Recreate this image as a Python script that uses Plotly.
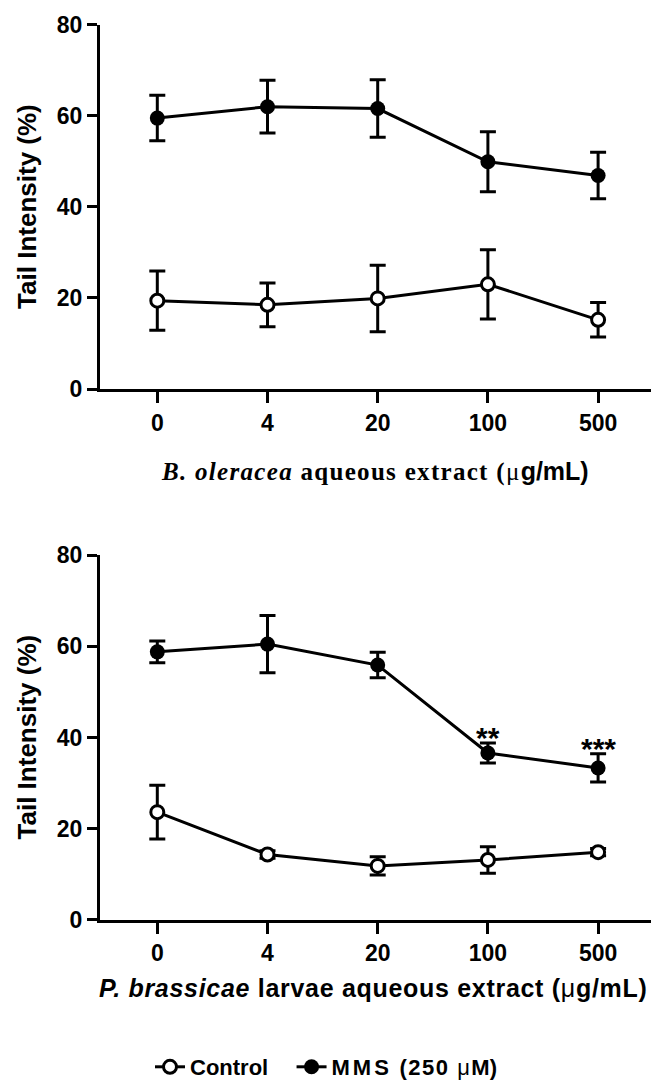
import plotly.graph_objects as go

# ---------------- data ----------------
doses = ["0", "4", "20", "100", "500"]

# Panel A: B. oleracea aqueous extract
ctrl_a_mean = [19.4, 18.5, 19.9, 23.0, 15.2]
ctrl_a_sd = [6.5, 4.8, 7.3, 7.6, 3.8]
mms_a_mean = [59.5, 62.0, 61.6, 49.9, 46.9]
mms_a_sd = [5.0, 5.8, 6.3, 6.6, 5.1]

# Panel B: P. brassicae larvae aqueous extract
ctrl_b_mean = [23.6, 14.3, 11.8, 13.1, 14.8]
ctrl_b_sd = [5.9, 0.8, 2.0, 2.9, 0.8]
mms_b_mean = [58.8, 60.5, 55.9, 36.6, 33.3]
mms_b_sd = [2.4, 6.3, 2.8, 2.2, 3.1]
sig_b = ["", "", "", "**", "***"]

y_ticks = [0, 20, 40, 60, 80]

# ---------------- figure ----------------
W, H = 651, 1088
SANS = "Liberation Sans, Arial, sans-serif"

fig = go.Figure()


def add_pair(ctrl_m, ctrl_s, mms_m, mms_s, xa, ya, show):
    fig.add_trace(go.Scatter(
        x=doses, y=ctrl_m, xaxis=xa, yaxis=ya, mode="lines+markers",
        name="<b>Control</b>&nbsp;&nbsp;&nbsp;", legendgroup="c", showlegend=show,
        line=dict(color="black", width=3),
        marker=dict(symbol="circle", size=13, color="white",
                    line=dict(color="black", width=3)),
        error_y=dict(type="data", array=ctrl_s, visible=True,
                     color="black", thickness=3, width=8),
    ))
    fig.add_trace(go.Scatter(
        x=doses, y=mms_m, xaxis=xa, yaxis=ya, mode="lines+markers",
        name='<b><span style="letter-spacing:3px">MMS</span>'
             '<span style="letter-spacing:1.5px"> (250 </span></b>'
             '<span style="letter-spacing:1.5px">μ</span><b>M)</b>',
        legendgroup="m", showlegend=show,
        line=dict(color="black", width=3),
        marker=dict(symbol="circle", size=15, color="black",
                    line=dict(color="black", width=0)),
        error_y=dict(type="data", array=mms_s, visible=True,
                     color="black", thickness=3, width=8),
    ))


add_pair(ctrl_a_mean, ctrl_a_sd, mms_a_mean, mms_a_sd, "x", "y", True)
add_pair(ctrl_b_mean, ctrl_b_sd, mms_b_mean, mms_b_sd, "x2", "y2", False)

x_left = 100 / W
top_dom = [1 - 393 / H, 1 - 25 / H]
bot_dom = [1 - 929 / H, 1 - 561 / H]

xcommon = dict(
    type="category", range=[-0.52, 4.48], showline=True, linewidth=3,
    linecolor="black", ticks="outside", ticklen=11, tickwidth=3,
    tickcolor="black", showgrid=False, zeroline=False,
    tickfont=dict(family=SANS, size=23, color="black", weight="bold"),
    automargin=False, fixedrange=True,
)
ycommon = dict(
    range=[0, 80], tickvals=y_ticks, showline=True, linewidth=3,
    linecolor="black", ticks="outside", ticklen=10, tickwidth=3,
    tickcolor="black", showgrid=False, zeroline=False,
    tickfont=dict(family=SANS, size=23, color="black", weight="bold"),
    automargin=False, fixedrange=True,
)

fig.update_layout(
    width=W, height=H,
    margin=dict(l=0, r=0, t=0, b=0),
    paper_bgcolor="white", plot_bgcolor="white",
    xaxis=dict(domain=[x_left, 1], anchor="y", **xcommon),
    yaxis=dict(domain=top_dom, anchor="x", **ycommon),
    xaxis2=dict(domain=[x_left, 1], anchor="y2", **xcommon),
    yaxis2=dict(domain=bot_dom, anchor="x2", **ycommon),
    showlegend=True,
    legend=dict(orientation="h", x=150 / W, xanchor="left",
                y=10 / H, yanchor="middle",
                font=dict(family=SANS, size=22, color="black"),
                itemwidth=30, tracegroupgap=0, bgcolor="rgba(0,0,0,0)"),
)

ann = []
# y-axis titles
for dom in (top_dom, bot_dom):
    ann.append(dict(
        text="<b>Tail Intensity (%)</b>", textangle=-90,
        x=27 / W, y=(dom[0] + dom[1]) / 2, xref="paper", yref="paper",
        xanchor="center", yanchor="middle", showarrow=False,
        font=dict(family=SANS, size=26, color="black"),
    ))

# x-axis titles
top_title = ('<span style="font-family:Liberation Serif;letter-spacing:1.3px">'
             '<b><i>B. oleracea</i> aqueous extract (</b>μ</span>'
             '<b>g/mL)</b>')
ann.append(dict(
    text=top_title, x=375 / W, y=1 - 476 / H, xref="paper", yref="paper",
    xanchor="center", yanchor="middle", showarrow=False,
    font=dict(family=SANS, size=25, color="black"),
))
bot_title = ('<span style="letter-spacing:0.7px"><b><i>P. brassicae</i> larvae aqueous extract (</b>'
             'μ<b>g/mL)</b></span>')
ann.append(dict(
    text=bot_title, x=373 / W, y=1 - 998 / H, xref="paper", yref="paper",
    xanchor="center", yanchor="middle", showarrow=False,
    font=dict(family=SANS, size=25, color="black"),
))

# significance marks (placed just above the MMS error bars)
for i, (m, s, lab) in enumerate(zip(mms_b_mean, mms_b_sd, sig_b)):
    if lab:
        ann.append(dict(
            text="<b>" + lab + "</b>", x=i, y=m + s + 1.2, xref="x2", yref="y2",
            xanchor="center", yanchor="middle", showarrow=False,
            font=dict(family=SANS, size=30, color="black"),
        ))

fig.update_layout(annotations=ann)

fig.write_html("out.html")
